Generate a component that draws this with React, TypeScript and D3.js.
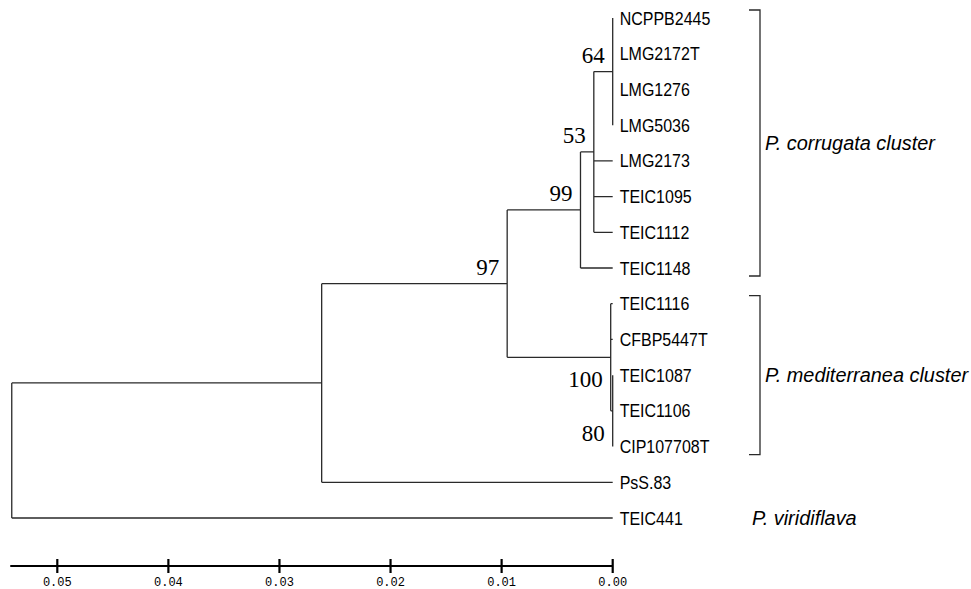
import React from "react";
import * as d3 from "d3";

const W = 971;
const H = 589;

// Leaves, top to bottom, and the internal node that holds each one
const taxa = [
  "NCPPB2445", "LMG2172T", "LMG1276", "LMG5036", "LMG2173", "TEIC1095", "TEIC1112",
  "TEIC1148", "TEIC1116", "CFBP5447T", "TEIC1087", "TEIC1106", "CIP107708T", "PsS.83", "TEIC441",
];
const taxonParents = [
  "n64", "n64", "n64", "n64", "n53", "n53", "n53",
  "n99", "n100", "n100", "n80", "n80", "n80", "nA", "root",
];

// Internal nodes: id, parent, height (distance from tips), bootstrap support
const nodeIds = ["root", "nA", "n97", "n99", "n53", "n64", "n100", "n80"];
const nodeParents = ["", "root", "nA", "n97", "n99", "n53", "n97", "n100"];
const nodeHeights = [0.0541, 0.0262, 0.0095, 0.0029, 0.0017, 0.0, 0.00018, 0.0];
const nodeSupport = [null, null, 97, 99, 53, 64, 100, 80];
const supportBelow = [false, false, false, false, false, false, true, true];

// Cluster annotations
const clusterNames = ["P. corrugata cluster", "P. mediterranea cluster", "P. viridiflava"];
const clusterFirst = ["NCPPB2445", "TEIC1116", "TEIC441"];
const clusterLast = ["TEIC1148", "CIP107708T", "TEIC441"];
const clusterBracket = [true, true, false];

// Scale bar ticks
const scaleTicks = [0.05, 0.04, 0.03, 0.02, 0.01, 0.0];

type Row = { id: string; parent: string; height: number; support: number | null; below: boolean; leaf: boolean };

export default function App() {
  const rows: Row[] = [
    ...nodeIds.map((id, i) => ({
      id,
      parent: nodeParents[i],
      height: nodeHeights[i],
      support: nodeSupport[i],
      below: supportBelow[i],
      leaf: false,
    })),
    ...taxa.map((id, i) => ({ id, parent: taxonParents[i], height: 0, support: null, below: false, leaf: true })),
  ];

  const root = d3
    .stratify<Row>()
    .id((d) => d.id)
    .parentId((d) => (d.parent === "" ? null : d.parent))(rows);

  // order children by the first leaf they hold
  const minLeaf = new Map<any, number>();
  root.eachAfter((n: any) => {
    if (!n.children) minLeaf.set(n, taxa.indexOf(n.data.id));
    else minLeaf.set(n, d3.min(n.children, (c: any) => minLeaf.get(c)) as number);
  });
  root.sort((a: any, b: any) => (minLeaf.get(a) as number) - (minLeaf.get(b) as number));

  const x = d3.scaleLinear().domain([0, 0.05]).range([612.7, 57.3]);
  const y = d3.scaleLinear().domain([0, taxa.length - 1]).range([18, 518]);

  const pos = new Map<string, { x: number; y: number }>();
  root.eachAfter((n: any) => {
    const px = x(n.data.height);
    let py: number;
    if (!n.children) py = y(taxa.indexOf(n.data.id));
    else {
      const f = pos.get(n.children[0].data.id)!;
      const l = pos.get(n.children[n.children.length - 1].data.id)!;
      py = (f.y + l.y) / 2;
    }
    pos.set(n.data.id, { x: px, y: py });
  });

  const segs: string[] = [];
  root.each((n: any) => {
    const p = pos.get(n.data.id)!;
    if (n.parent) {
      const pp = pos.get(n.parent.data.id)!;
      if (Math.abs(pp.x - p.x) > 0.01) segs.push(`M${pp.x},${p.y}H${p.x}`);
    }
    if (n.children) {
      const f = pos.get(n.children[0].data.id)!;
      const l = pos.get(n.children[n.children.length - 1].data.id)!;
      segs.push(`M${p.x},${f.y}V${l.y}`);
    }
  });

  const internals = root.descendants().filter((n: any) => n.children && n.data.support != null);
  const leafX = x(0);
  const rootX = x(nodeHeights[0]);
  const axisY = 566;
  const bracketX = 760;

  return (
    <div style={{ width: W, height: H }}>
      <style>{`body{margin:0}`}</style>
      <svg width={W} height={H} viewBox={`0 0 ${W} ${H}`} style={{ display: "block", background: "#fff" }}>
        <path d={segs.join("")} fill="none" stroke="#2a2a2a" strokeWidth={1.3} />

        {root.leaves().map((n: any) => {
          const p = pos.get(n.data.id)!;
          return (
            <text
              key={n.data.id}
              transform={`translate(${leafX + 7},${p.y + 6.6}) scale(1,1.12)`}
              fontFamily="'Liberation Sans', Arial, sans-serif"
              fontSize={16}
              fill="#000"
            >
              {n.data.id}
            </text>
          );
        })}

        {internals.map((n: any) => {
          const p = pos.get(n.data.id)!;
          return (
            <text
              key={"s" + n.data.id}
              x={p.x - 8}
              y={n.data.below ? p.y + 30 : p.y - 9}
              textAnchor="end"
              fontFamily="'Liberation Serif', 'Times New Roman', serif"
              fontSize={23}
              fill="#000"
            >
              {n.data.support}
            </text>
          );
        })}

        {clusterNames.map((name, i) => {
          const y0 = y(taxa.indexOf(clusterFirst[i]));
          const y1 = y(taxa.indexOf(clusterLast[i]));
          const mid = (y0 + y1) / 2;
          return (
            <g key={name}>
              {clusterBracket[i] && (
                <path
                  d={`M${bracketX - 11},${y0 - 8}H${bracketX}V${y1 + 8}H${bracketX - 11}`}
                  fill="none"
                  stroke="#2a2a2a"
                  strokeWidth={1.3}
                />
              )}
              <text
                x={clusterBracket[i] ? bracketX + 5 : bracketX - 8}
                y={mid + 6.8}
                fontFamily="'Liberation Sans', Arial, sans-serif"
                fontStyle="italic"
                fontSize={19.9}
                fill="#000"
              >
                {name}
              </text>
            </g>
          );
        })}

        <g>
          <line x1={rootX - 1.5} x2={x(0)} y1={axisY} y2={axisY} stroke="#000" strokeWidth={2.2} />
          {scaleTicks.map((t) => (
            <g key={t} transform={`translate(${x(t)},${axisY})`}>
              <line y1={-7} y2={7} stroke="#000" strokeWidth={2.2} />
              <text
                y={19.5}
                textAnchor="middle"
                fontFamily="'Liberation Mono', 'Courier New', monospace"
                fontSize={12}
                fill="#000"
              >
                {d3.format(".2f")(t)}
              </text>
            </g>
          ))}
        </g>
      </svg>
    </div>
  );
}
